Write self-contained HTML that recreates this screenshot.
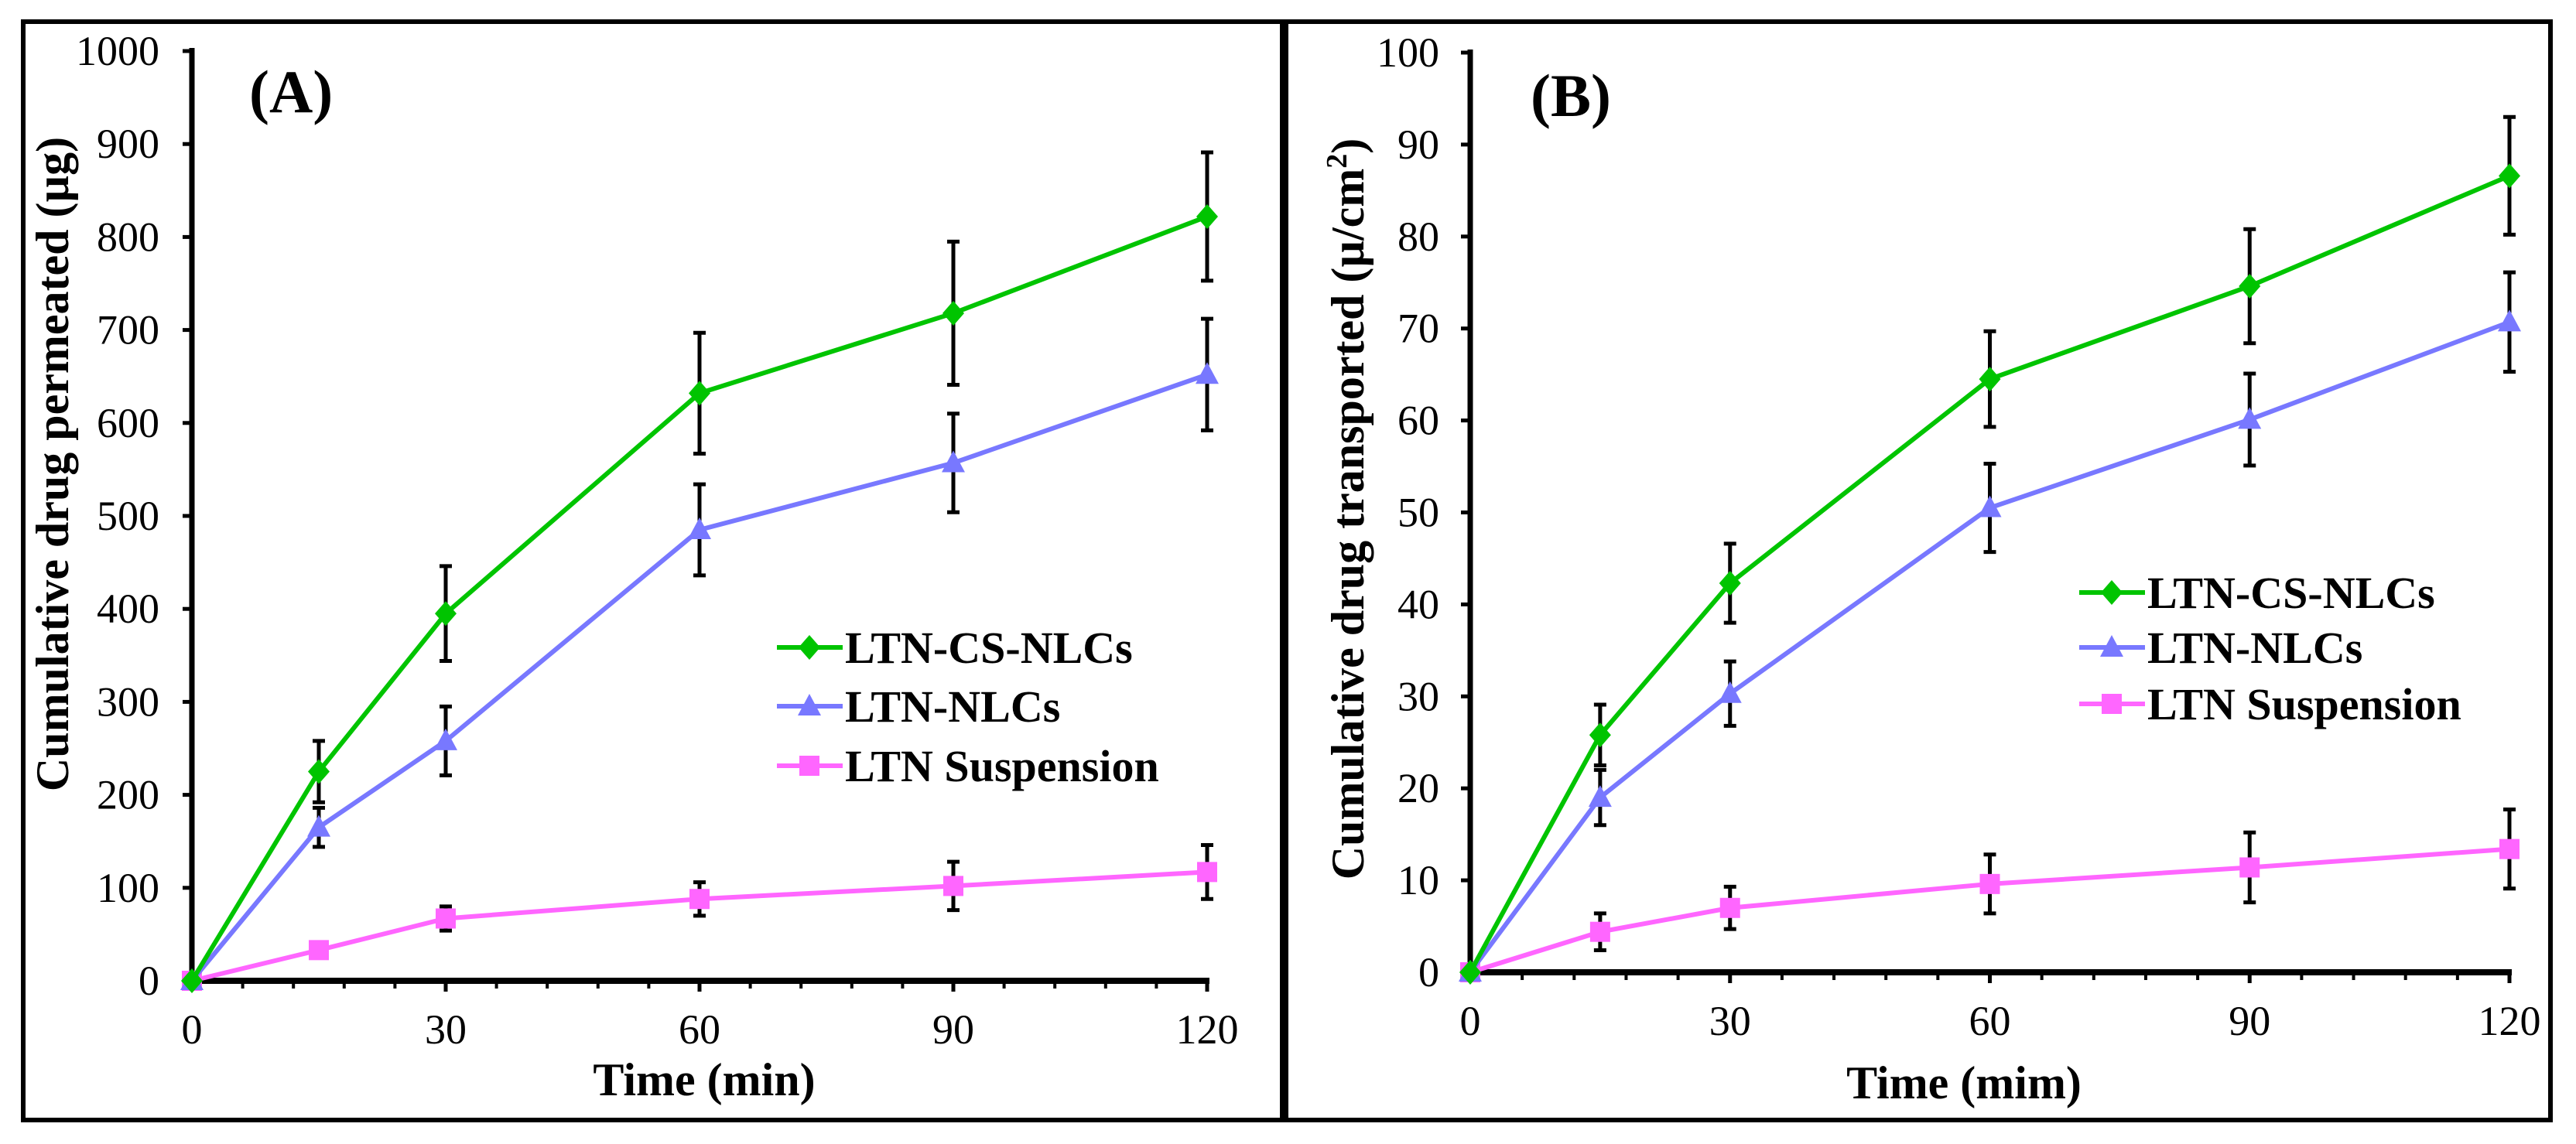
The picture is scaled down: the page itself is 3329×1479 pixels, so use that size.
<!DOCTYPE html>
<html><head><meta charset="utf-8"><style>
html,body{margin:0;padding:0;background:#fff;}
svg{display:block;font-family:"Liberation Serif",serif;}
</style></head><body>
<svg id="fig" width="3329" height="1479" viewBox="0 0 3329 1479"></svg>
<script>
const times = [0, 15, 30, 60, 90, 120];
const seriesNames = ["LTN-CS-NLCs", "LTN-NLCs", "LTN Suspension"];
const aGreen = [0, 225, 395, 632, 718, 822];
const aGreenErr = [0, 33, 51, 65, 77, 69];
const aBlue = [0, 165, 258, 485, 557, 652];
const aBlueErr = [0, 21, 37, 49, 53, 60];
const aPink = [0, 33, 67, 88, 102, 117];
const aPinkErr = [0, 0, 13, 18, 26, 29];
const bGreen = [0, 25.8, 42.3, 64.5, 74.6, 86.6];
const bGreenErr = [0, 3.3, 4.3, 5.2, 6.2, 6.4];
const bBlue = [0, 19, 30.3, 50.5, 60.1, 70.7];
const bBlueErr = [0, 3, 3.5, 4.8, 5, 5.4];
const bPink = [0, 4.4, 7, 9.6, 11.4, 13.4];
const bPinkErr = [0, 2, 2.3, 3.2, 3.8, 4.3];
const xTicks = [0, 30, 60, 90, 120];
const aYTicks = [0,100,200,300,400,500,600,700,800,900,1000];
const bYTicks = [0,10,20,30,40,50,60,70,80,90,100];

const NS = "http://www.w3.org/2000/svg";
const svg = document.getElementById("fig");
function mk(tag, attrs, parent, text){
  const e = document.createElementNS(NS, tag);
  for (const k in attrs) e.setAttribute(k, attrs[k]);
  if (text !== undefined) e.textContent = text;
  (parent || svg).appendChild(e);
  return e;
}
const colors = ["#00c400", "#7878ff", "#ff66ff"];

function panel(cfg){
  const g = mk("g", {});
  
  
  const fr = mk("rect", {x:cfg.box[0], y:cfg.box[1], width:cfg.box[2], height:cfg.box[3], fill:"none", stroke:"#000", "stroke-width":6}, g);
  
  
  const X = t => cfg.x0 + (cfg.x1 - cfg.x0) * t / 120;
  const Y = v => cfg.y0 - (cfg.y0 - cfg.y1) * v / cfg.ymax;
  const ya = mk("line", {x1:cfg.x0, y1:Y(0)+4, x2:cfg.x0, y2:Y(cfg.ymax)-4, stroke:"#000", "stroke-width":7}, g);
  
  
  const xa = mk("line", {x1:cfg.x0-4, y1:Y(0), x2:X(120)+3, y2:Y(0), stroke:"#000", "stroke-width":8}, g);
  
  
  for (let t = 6; t <= 120; t += 6){
    const big = xTicks.includes(t);
    mk("line", {x1:X(t), y1:Y(0), x2:X(t), y2:Y(0)+(big?14:10), stroke:"#000", "stroke-width":big?5:4}, g);
  }
  xTicks.forEach(t=>{
    const tl = mk("text", {x:X(t), y:Y(0)+81, "font-size":54, "text-anchor":"middle"}, g, String(t));
    
    
  });
  cfg.yTicks.forEach(v=>{
    mk("line", {x1:cfg.x0-12, y1:Y(v), x2:cfg.x0, y2:Y(v), stroke:"#000", "stroke-width":5}, g);
    const tl = mk("text", {x:cfg.labX, y:Y(v)+18, "font-size":54, "text-anchor":"end"}, g, String(v));
    
    
  });
  const xt = mk("text", {x:cfg.xtX, y:cfg.xtY, "font-size":60, "font-weight":"bold", "text-anchor":"middle"}, g, cfg.xTitle);
  
  
  const yt = mk("text", {x:0, y:0, "font-size":60, "font-weight":"bold", "text-anchor":"middle", transform:`translate(${cfg.ytX},${cfg.ytY}) rotate(-90)`}, g);
  
  
  yt.textContent = cfg.yTitle;
  if (cfg.sup){ mk("tspan", {dy:-22, "font-size":38}, yt, "2"); mk("tspan", {dy:22}, yt, ")"); }
  const pl = mk("text", {x:cfg.plX, y:cfg.plY, "font-size":78, "font-weight":"bold"}, g, cfg.label);
  
  

  function marker(i, cx, cy, parent){
    const c = colors[i];
    let m;
    if (i===0) m = mk("polygon", {points:`${cx},${cy-16} ${cx+14},${cy} ${cx},${cy+16} ${cx-14},${cy}`, fill:c}, parent);
    else if (i===1) m = mk("polygon", {points:`${cx},${cy-16} ${cx+15},${cy+12} ${cx-15},${cy+12}`, fill:c}, parent);
    else m = mk("rect", {x:cx-13, y:cy-13, width:26, height:26, fill:c}, parent);
    
    
  }
  [2,1,0].forEach(i=>{
    const vals = cfg.series[i], errs = cfg.errs[i];
    const sg = mk("g", {}, g);
    
    
    vals.forEach((v,k)=>{
      if (errs[k] > 0){
        const x = X(times[k]);
        const eb = mk("path", {d:`M${x},${Y(v-errs[k])}V${Y(v+errs[k])}M${x-8},${Y(v-errs[k])}H${x+8}M${x-8},${Y(v+errs[k])}H${x+8}`, stroke:"#000", "stroke-width":5, fill:"none"}, sg);
        
        
      }
    });
    const ln = mk("polyline", {points: vals.map((v,k)=>X(times[k])+","+Y(v)).join(" "), fill:"none", stroke:colors[i], "stroke-width":6}, sg);
    
    
    vals.forEach((v,k)=>marker(i, X(times[k]), Y(v), sg));
  });
  const lg = mk("g", {}, g);
  
  
  seriesNames.forEach((n,i)=>{
    const y = cfg.legY[i];
    const le = mk("g", {}, lg);
    
    
    mk("line", {x1:cfg.legX, y1:y, x2:cfg.legX+85, y2:y, stroke:colors[i], "stroke-width":6}, le);
    marker(i, cfg.legX+42, y, le);
    mk("text", {x:cfg.legX+88, y:y+20, "font-size":58, "font-weight":"bold"}, le, n);
  });
}

panel({name:"panel-a", box:[30,28,1627,1420], x0:248, x1:1560, y0:1268, y1:66, ymax:1000,
  yTicks:aYTicks, labX:206, xtX:910, xtY:1416, ytX:88, ytY:600,
  xTitle:"Time (min)", yTitle:"Cumulative drug permeated (µg)", sup:false,
  label:"(A)", plX:322, plY:145,
  series:[aGreen,aBlue,aPink], errs:[aGreenErr,aBlueErr,aPinkErr],
  legX:1004, legY:[837,913,990]});
panel({name:"panel-b", box:[1662,28,1634,1420], x0:1900, x1:3243, y0:1257, y1:68, ymax:100,
  yTicks:bYTicks, labX:1860, xtX:2538, xtY:1420, ytX:1762, ytY:658,
  xTitle:"Time (mim)", yTitle:"Cumulative drug transported (µ/cm", sup:true,
  label:"(B)", plX:1978, plY:150,
  series:[bGreen,bBlue,bPink], errs:[bGreenErr,bBlueErr,bPinkErr],
  legX:2687, legY:[766,837,910]});
</script>
</body></html>
